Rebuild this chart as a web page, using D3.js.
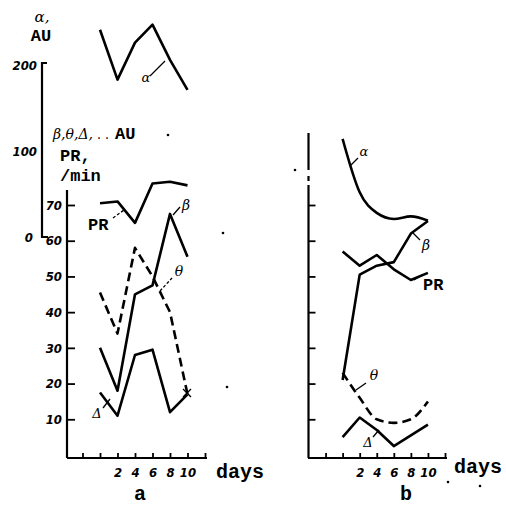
<!DOCTYPE html>
<html>
<head>
<meta charset="utf-8">
<script src="https://cdn.jsdelivr.net/npm/d3@7"></script>
<style>
  body { margin: 0; background: #fff; }
  svg { display: block; }
</style>
</head>
<body>
<div id="chart"></div>
<script>
// days at which values were read
var days = [0, 2, 4, 6, 8, 10];
var xTicks = [-2, 0, 2, 4, 6, 8, 10, 12];
var xLabelled = [2, 4, 6, 8, 10];
var yTicks = [10, 20, 30, 40, 50, 60, 70];
var alphaTicks = [0, 100, 200];

// panel a
var aAlpha = [241, 183, 226, 247, 206, 171];
var aPR = [70.5, 71, 65, 76, 76.5, 75.5];
var aBeta = [30, 18, 45, 47.5, 67.5, 55.5];
var aTheta = [45.5, 34, 58, 50, 40, 17];
var aDelta = [17.5, 11, 28, 29.5, 12, 17];

// panel b
var bAlpha = [114, 52, 28, 21, 24, 19];
var bPR = [57, 53, 56, 52, 49, 51];
var bBeta = [21, 50.5, 53, 54, 62, 65.5];
var bTheta = [23, 16, 10, 9, 10, 15];
var bDelta = [5, 10.5, 7, 2.5, 5.5, 8.5];

var numFont = "'DejaVu Sans Condensed', 'DejaVu Sans', sans-serif";
var monoFont = "'Liberation Mono', 'DejaVu Sans Mono', monospace";
var greekFont = "'DejaVu Serif', 'Liberation Serif', serif";

var svg = d3.select("#chart").append("svg")
    .attr("width", 506)
    .attr("height", 508);

// scales
var y = d3.scaleLinear().domain([0, 70]).range([455, 205]);
var yAlpha = d3.scaleLinear().domain([0, 200]).range([237, 65]);
var xa = d3.scaleLinear().domain([-4, 12]).range([65, 205]);
var xb = d3.scaleLinear().domain([-4, 12]).range([308.5, 445]);
var axisY = 458;

function drawLine(x, sy, vals, dashed, curve) {
    var line = d3.line()
        .x(function(d, i) { return x(days[i]); })
        .y(function(d) { return sy(d); })
        .curve(curve || d3.curveLinear);
    svg.append("path")
        .datum(vals)
        .attr("d", line)
        .attr("fill", "none")
        .attr("stroke", "black")
        .attr("stroke-width", 2.6)
        .attr("stroke-linejoin", "round")
        .attr("stroke-dasharray", dashed ? "9,5" : null);
}

function leader(x1, y1, x2, y2, dash) {
    svg.append("line")
        .attr("x1", x1).attr("y1", y1)
        .attr("x2", x2).attr("y2", y2)
        .attr("stroke", "black")
        .attr("stroke-width", 1.3)
        .attr("stroke-dasharray", dash ? "3,2" : null);
}

function label(x, yy, txt, font, size, opts) {
    opts = opts || {};
    return svg.append("text")
        .attr("x", x).attr("y", yy)
        .attr("font-family", font)
        .attr("font-size", size)
        .attr("font-style", opts.italic ? "italic" : "normal")
        .attr("font-weight", opts.bold ? "bold" : "normal")
        .attr("text-anchor", opts.anchor || "start")
        .text(txt);
}

function styleAxis(g) {
    g.select(".domain").remove();
    g.selectAll("line").attr("stroke", "black").attr("stroke-width", 1.8);
    g.selectAll("text")
        .attr("font-family", numFont)
        .attr("font-style", "italic")
        .attr("font-weight", "bold")
        .attr("font-size", 13)
        .attr("fill", "black");
}

function xAxis(x, x0, x1) {
    svg.append("line")
        .attr("x1", x0).attr("x2", x1)
        .attr("y1", axisY).attr("y2", axisY)
        .attr("stroke", "black").attr("stroke-width", 2.2);
    var g = svg.append("g")
        .attr("transform", "translate(0," + axisY + ")")
        .call(d3.axisBottom(x).tickValues(xTicks)
            .tickSizeInner(-5).tickSizeOuter(0).tickPadding(10)
            .tickFormat(function(d) { return xLabelled.indexOf(d) >= 0 ? d : ""; }));
    styleAxis(g);
}

// ---------- panel a ----------
// alpha axis
svg.append("path")
    .attr("d", "M47,63 H42 V237 H48")
    .attr("fill", "none").attr("stroke", "black").attr("stroke-width", 2.2);
alphaTicks.forEach(function(t) {
    label(t === 0 ? 33 : 37, yAlpha(t) + 5, t, numFont, 13, {italic: true, bold: true, anchor: "end"});
});

// lower left axis
svg.append("line")
    .attr("x1", 67).attr("x2", 67).attr("y1", 190).attr("y2", axisY)
    .attr("stroke", "black").attr("stroke-width", 2.2);
var gya = svg.append("g")
    .attr("transform", "translate(67,0)")
    .call(d3.axisLeft(y).tickValues(yTicks).tickSizeInner(-8).tickSizeOuter(0).tickPadding(5));
styleAxis(gya);
xAxis(xa, 67, 207);

drawLine(xa, yAlpha, aAlpha, false);
drawLine(xa, y, aPR, false);
drawLine(xa, y, aBeta, false);
drawLine(xa, y, aTheta, true);
drawLine(xa, y, aDelta, false);

// labels panel a
label(42, 22, "\u03b1,", greekFont, 15, {italic: true, anchor: "middle"});
label(41, 41, "AU", monoFont, 17, {bold: true, anchor: "middle"});
var t1 = label(53, 139, "", greekFont, 14, {italic: true});
t1.append("tspan").text("\u03b2,\u03b8,\u0394,");
t1.append("tspan").attr("font-family", numFont).attr("font-style", "normal").text(" . .");
t1.append("tspan").attr("font-family", monoFont).attr("font-style", "normal")
    .attr("font-weight", "bold").attr("font-size", 17).attr("dx", 6).text("AU");
label(60, 161, "PR,", monoFont, 17, {bold: true});
label(60, 181, "/min", monoFont, 17, {bold: true});

label(88, 230, "PR", monoFont, 17, {bold: true});
leader(113, 218, 124, 210, true);
label(186, 210, "\u03b2", greekFont, 14, {italic: true, anchor: "middle"});
leader(173, 215, 180, 207);
label(179, 276, "\u03b8", greekFont, 14, {italic: true, anchor: "middle"});
leader(160, 291, 172, 278, true);
label(97, 418, "\u0394", greekFont, 13, {italic: true, anchor: "middle"});
leader(103, 408, 110, 399);
label(146, 82, "\u03b1", greekFont, 13, {italic: true, anchor: "middle"});
leader(150, 76, 165, 61);
// small cross at end of theta
leader(183, 389, 191, 397);
leader(183, 397, 191, 389);
label(216, 478, "days", monoFont, 20, {bold: true});
label(140, 500, "a", monoFont, 20, {bold: true, anchor: "middle"});

// ---------- panel b ----------
[[133, 170], [176, 181], [185, axisY]].forEach(function(s) {
    svg.append("line")
        .attr("x1", 308.5).attr("x2", 308.5).attr("y1", s[0]).attr("y2", s[1])
        .attr("stroke", "black").attr("stroke-width", 2.2);
});
var gyb = svg.append("g")
    .attr("transform", "translate(308.5,0)")
    .call(d3.axisLeft(y).tickValues(yTicks).tickSizeInner(-7).tickSizeOuter(0)
        .tickFormat(""));
styleAxis(gyb);
xAxis(xb, 308, 447);

drawLine(xb, yAlpha, bAlpha, false, d3.curveMonotoneX);
drawLine(xb, y, bPR, false);
drawLine(xb, y, bBeta, false);
drawLine(xb, y, bTheta, true, d3.curveMonotoneX);
drawLine(xb, y, bDelta, false);

label(364, 156, "\u03b1", greekFont, 13, {italic: true, anchor: "middle"});
leader(350, 166, 358, 158);
label(426, 250, "\u03b2", greekFont, 14, {italic: true, anchor: "middle"});
leader(412, 232, 420, 240);
label(423, 290, "PR", monoFont, 17, {bold: true});
leader(414, 280, 422, 275);
label(374, 380, "\u03b8", greekFont, 14, {italic: true, anchor: "middle"});
leader(356, 390, 366, 383);
label(368, 447, "\u0394", greekFont, 13, {italic: true, anchor: "middle"});
leader(373, 437, 379, 430);
label(454, 473, "days", monoFont, 20, {bold: true});
label(406, 500, "b", monoFont, 20, {bold: true, anchor: "middle"});

// specks from the scan
[[295, 170], [223, 233], [227, 387], [168, 135], [448, 482], [480, 486]].forEach(function(p) {
    svg.append("circle").attr("cx", p[0]).attr("cy", p[1]).attr("r", 1.3).attr("fill", "black");
});
</script>
</body>
</html>
